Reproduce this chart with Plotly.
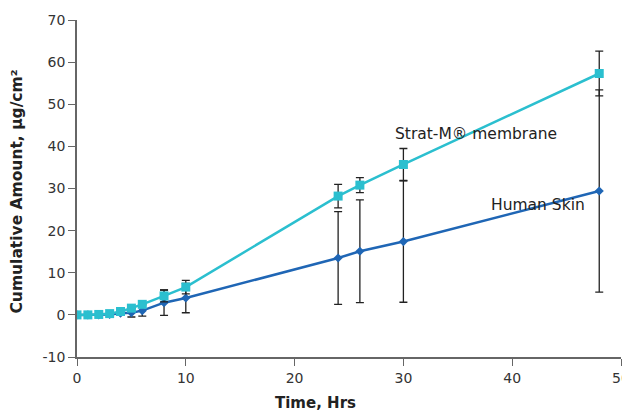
import plotly.graph_objects as go

time_hrs = [0, 1, 2, 3, 4, 5, 6, 8, 10, 24, 26, 30, 48]
strat_m = [0, 0, 0.1, 0.3, 0.8, 1.6, 2.5, 4.5, 6.6, 28.2, 30.8, 35.7, 57.3]
strat_m_err = [0, 0, 0, 0, 0, 0, 0, 1.4, 1.6, 2.8, 1.8, 3.8, 5.3]
human_skin = [0, 0, 0, 0.1, 0.4, 0.5, 1.0, 2.9, 4.0, 13.5, 15.1, 17.4, 29.4]
human_skin_err = [0, 0, 0, 0, 0.3, 1.0, 1.3, 3.0, 3.5, 11.0, 12.2, 14.4, 24.0]

x_ticks = [0, 10, 20, 30, 40, 50]
y_ticks = [-10, 0, 10, 20, 30, 40, 50, 60, 70]
y_tick_text = ["-10", "0", "10", "20", "30", "40", "50", "60", "70"]

fig = go.Figure()
fig.add_trace(go.Scatter(
    x=time_hrs, y=human_skin, mode="lines+markers", name="Human Skin",
    line=dict(color="#1F66B5", width=2.5),
    marker=dict(symbol="diamond", size=7, color="#1F66B5"),
    error_y=dict(type="data", array=human_skin_err, color="#222222", thickness=1.3, width=4),
))
fig.add_trace(go.Scatter(
    x=time_hrs, y=strat_m, mode="lines+markers", name="Strat-M® membrane",
    line=dict(color="#2BBFCF", width=2.5),
    marker=dict(symbol="square", size=9, color="#2BBFCF"),
    error_y=dict(type="data", array=strat_m_err, color="#222222", thickness=1.3, width=4),
))

fig.add_annotation(x=29.0, y=43.0, text="Strat-M® membrane", showarrow=False,
                   xanchor="left", yanchor="middle",
                   font=dict(family="DejaVu Sans", size=15.5, color="#222222"))
fig.add_annotation(x=37.9, y=26.1, text="Human Skin", showarrow=False,
                   xanchor="left", yanchor="middle",
                   font=dict(family="DejaVu Sans", size=15.5, color="#222222"))

# axis titles
fig.add_annotation(xref="paper", yref="paper", x=0, y=0.491, xshift=-60,
                   text="<b>Cumulative Amount, µg/cm²</b>", textangle=-90, showarrow=False,
                   xanchor="center", yanchor="middle",
                   font=dict(family="DejaVu Sans", size=15.5, color="#222222"))
fig.add_annotation(xref="x", yref="paper", x=21.9, y=0, yshift=-46,
                   text="<b>Time, Hrs</b>", showarrow=False,
                   xanchor="center", yanchor="middle",
                   font=dict(family="DejaVu Sans", size=15, color="#222222"))

# page body has an 8px margin, so the figure is sized/offset to compensate
fig.update_layout(
    width=622, height=403,
    margin=dict(l=69, r=9, t=12, b=54),
    paper_bgcolor="white", plot_bgcolor="white",
    showlegend=False,
    font=dict(family="DejaVu Sans", size=14, color="#333333"),
)
fig.update_xaxes(
    range=[0, 50], tickvals=x_ticks, showgrid=False, zeroline=False, automargin=False,
    showline=True, linecolor="#666666", linewidth=1.5, ticklabeloverflow="allow",
    ticks="outside", ticklen=7, tickcolor="#666666",
)
fig.update_yaxes(
    range=[-10, 70], tickvals=y_ticks, ticktext=y_tick_text, showgrid=False, zeroline=False,
    automargin=False,
    showline=True, linecolor="#666666", linewidth=1.5,
    ticks="outside", ticklen=7, tickcolor="#666666",
)

fig.write_html("out.html")
